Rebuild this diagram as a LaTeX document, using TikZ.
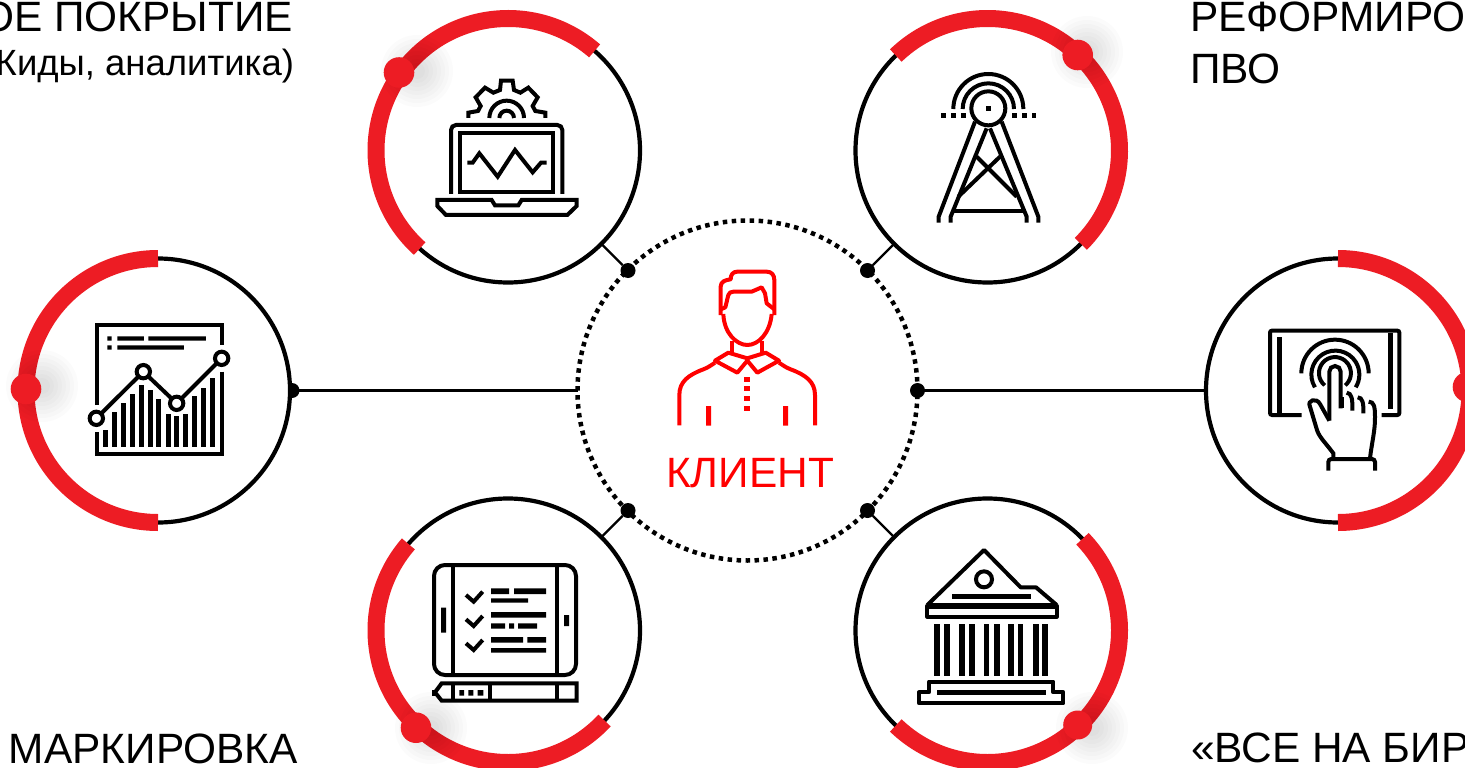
\documentclass[tikz,border=0pt]{standalone}
\usepackage{fontspec}
\setmainfont{Liberation Sans}
\definecolor{arcred}{HTML}{ED1C24}
\definecolor{pure}{HTML}{FF0000}
\tikzset{
  ring/.style={circle,draw=black,fill=white,line width=4.2pt,minimum size=264pt,inner sep=0pt,outer sep=0pt},
  hubring/.style={circle,draw=black,line width=4.5pt,minimum size=340pt,inner sep=0pt,outer sep=0pt,dash pattern=on 4.5pt off 4.48pt},
  bigdot/.style={circle,fill=black,minimum size=15pt,inner sep=0pt,outer sep=0pt},
  redarc/.style={arcred,line width=17pt},
  link/.style={black,line width=2.2pt},
  ic/.style={black,line width=4pt,miter limit=4},
  pers/.style={pure,line width=4pt,line join=round},
  big/.style={inner sep=0pt,outer sep=0pt,font=\fontsize{42.4}{48}\selectfont,text=black},
  small/.style={inner sep=0pt,outer sep=0pt,font=\fontsize{36.5}{42}\selectfont,text=black},
}
\newcommand{\knobshadow}[2]{\foreach \rr in {8,12,16,20,24,28,32,36}{\fill[black,opacity=0.014] (#1,#2) circle (\rr);}}
\begin{document}
\begin{tikzpicture}[x=1pt,y=1pt,yscale=-1]
\useasboundingbox (0,0) rectangle (1465,768);
\fill[white] (0,0) rectangle (1465,768);
% texts
\node[big,anchor=base east] (t1) at (293,32) {ОЕ ПОКРЫТИЕ};
\node[small,anchor=base east] (t2) at (294,76) {Жиды, аналитика)};
\node[big,anchor=base west] (t3) at (1190,32) {РЕФОРМИРО};
\node[big,anchor=base west] (t4) at (1190,83.5) {ПВО};
\node[big,anchor=base west] (t5) at (9,763) {МАРКИРОВКА};
\node[big,anchor=base west] (t6) at (1191,762) {«ВСЕ НА БИР};
% hidden half dot and rings
\node[bigdot] (dW) at (292,390.5) {};
\node[ring] (cTL) at (508,150.5) {};
\node[ring] (cTR) at (987.5,150.5) {};
\node[ring] (cL) at (158,390.5) {};
\node[ring] (cR) at (1338,390.5) {};
\node[ring] (cBL) at (508,630.5) {};
\node[ring] (cBR) at (987.5,630.5) {};
\node[hubring] (hub) at (747.5,390.5) {};
\node[bigdot] (dTL) at (628,270.5) {};
\node[bigdot] (dTR) at (867.5,270.5) {};
\node[bigdot] (dBL) at (628,510.5) {};
\node[bigdot] (dBR) at (867.5,510.5) {};
\node[bigdot] (dE) at (917.5,390.5) {};
\draw[link] (hub.west) -- (cL.east);
\draw[link] (dE) -- (cR.west);
\draw[link] (dTL) -- (cTL.-45);
\draw[link] (dTR) -- (cTR.-135);
\draw[link] (dBL) -- (cBL.45);
\draw[link] (dBR) -- (cBR.135);
% red arcs
\draw[redarc] (cTL.center) ++(-49:132) arc[start angle=-49,end angle=-228,radius=132];
\draw[redarc] (cTR.center) ++(-134:132) arc[start angle=-134,end angle=45,radius=132];
\draw[redarc] (cL.center) ++(-90:132) arc[start angle=-90,end angle=-270,radius=132];
\draw[redarc] (cR.center) ++(-90:132) arc[start angle=-90,end angle=90,radius=132];
\draw[redarc] (cBL.center) ++(-139:132) arc[start angle=-139,end angle=-317,radius=132];
\draw[redarc] (cBR.center) ++(-44:132) arc[start angle=-44,end angle=134,radius=132];
% knobs
\knobshadow{417}{71}\fill[arcred] (399,72.5) circle (15.3);
\knobshadow{1087}{52}\fill[arcred] (1077.7,55) circle (15.3);
\knobshadow{42}{386}\fill[arcred] (26,389) circle (15.3);
\fill[arcred] (1468,387) circle (15.3);
\knobshadow{431}{728}\fill[arcred] (416,727.7) circle (15.3);
\knobshadow{1092}{728}\fill[arcred] (1077.7,725) circle (14.5);
% laptop
\begin{scope}[shift={(360,0)},scale=1/3]
\draw[ic] (325,354)--(325,338)--(354,333)--(362,318)--(347,292)--(375,263)--(400,278)--(420,270)--(423,242)--(458,242)--(462,270)--(481,278)--(505,263)--(533,292)--(518,318)--(526,333)--(556,338)--(556,354);
\draw[ic] (388,354) arc[start angle=180,end angle=360,radius=52];
\draw[ic] (418,354) arc[start angle=180,end angle=360,radius=22];
\draw[ic,rounded corners=5pt] (273,582)--(273,375)--(607,375)--(607,582);
\draw[ic] (300,400) rectangle (580,576);
\draw[ic] (232,600)--(395,600)--(405,616)--(475,616)--(485,600)--(650,600)--(650,618)--(622,645)--(258,645)--(232,618)--cycle;
\draw[ic] (322,488)--(338,488)--(358,460)--(413,530)--(465,450)--(518,517)--(543,488)--(560,488);
\end{scope}
% tower
\begin{scope}[shift={(850,0)},scale=1/3]
\draw[ic] (310,327) arc[start angle=180,end angle=360,radius=105];
\draw[ic] (338,327) arc[start angle=180,end angle=360,radius=77];
\draw[ic] (415,325) circle (51);
\fill (408,318) rectangle (422,332);
\foreach \a/\b in {273/288,303/318,333/348,487/501,516/530,545/558}{\fill (\a,339) rectangle (\b,353);}
\draw[ic] (375,365)--(266,650)--(266,668);
\draw[ic] (410,385)--(302,650)--(302,668);
\draw[ic] (455,365)--(565,650)--(565,668);
\draw[ic] (420,385)--(530,650)--(530,668);
\draw[ic] (380,470)--(500,590);
\draw[ic] (450,470)--(325,590);
\draw[ic] (310,634)--(520,634);
\end{scope}
% chart
\begin{scope}[shift={(0,240)},scale=1/3]
\draw[ic] (290,495)--(290,255)--(665,255)--(665,315);
\draw[ic] (665,395)--(665,643)--(290,643)--(290,575);
\fill (322,289) rectangle (335,302) (352,289) rectangle (432,302) (445,289) rectangle (618,302);
\fill (322,316) rectangle (335,329) (352,316) rectangle (552,329);
\foreach \x/\t in {316/570,343/516,370/488,397/462,424/435,451/450,476/477,505/522,530/528,556/522,584/468,611/444,638/414}{\fill (\x-7.5,\t) rectangle (\x+7.5,622);}
\draw[ic] (289,535)--(430,395)--(530,490)--(665,355);
\foreach \x/\y in {289/535,430/395,530/490,665/355}{\draw[ic,fill=white] (\x,\y) circle (20);}
\end{scope}
% tablet touch
\begin{scope}[shift={(1190,240)},scale=1/3]
\draw[ic,rounded corners=2pt] (335,525)--(240,525)--(240,272)--(628,272)--(628,525)--(575,525);
\fill (260,290) rectangle (275,522);
\fill (594,278) rectangle (608,508);
\draw[ic] (334,400) arc[start angle=180,end angle=360,radius=101];
\draw[ic] (375,442) arc[start angle=148,end angle=392,radius=72];
\draw[ic] (404,436) arc[start angle=130,end angle=410,radius=48];
\draw[ic] (418,542)--(418,395) arc[start angle=180,end angle=360,radius=17]--(452,505);
\fill (447,470) rectangle (461,505);
\draw[ic] (418,542)--(390,492) .. controls (380,472) and (350,480) .. (360,500)--(378,560) .. controls (385,590) and (400,600) .. (430,640)--(430,655);
\draw[ic] (470,458) .. controls (485,460) and (488,475) .. (487,512);
\draw[ic] (503,472) .. controls (518,472) and (521,490) .. (520,520);
\draw[ic] (536,485) .. controls (552,485) and (555,500) .. (555,530) .. controls (556,570) and (545,610) .. (540,655);
\draw[ic,rounded corners=3pt] (415,692)--(415,657)--(555,657)--(555,692);
\end{scope}
% checklist tablet
\begin{scope}[shift={(360,490)},scale=1/3]
\draw[ic,rounded corners=11pt] (222,225) rectangle (648,555);
\draw[ic] (278,225)--(278,555);
\draw[ic] (592,225)--(592,555);
\fill (243,353) rectangle (258,428) (612,375) rectangle (627,408);
\foreach \y in {315,388,460}{\draw[ic] (318,\y)--(341,\y+20)--(368,\y-10);}
\fill (393,295) rectangle (447,312) (462,295) rectangle (558,312) (393,325) rectangle (504,338);
\fill (393,366) rectangle (558,383) (393,400) rectangle (435,416) (447,400) rectangle (462,416) (474,400) rectangle (531,416);
\fill (393,441) rectangle (489,458) (502,441) rectangle (558,458) (393,474) rectangle (558,488);
\draw[ic] (650,580)--(245,580)--(225,607)--(245,632)--(650,632)--cycle;
\fill (216,600) rectangle (232,617);
\draw[ic] (278,580)--(278,632);
\draw[ic] (390,580)--(390,632);
\draw[ic] (592,580)--(592,632);
\fill (298,600) rectangle (312,617) (325,600) rectangle (340,617) (353,600) rectangle (370,617);
\end{scope}
% bank
\begin{scope}[shift={(850,490)},scale=1/3]
\draw[ic,line join=round] (232,345)--(402,180)--(512,292)--(558,292)--(620,345);
\draw[ic,line join=round] (232,347) rectangle (620,380);
\fill (232,340) rectangle (620,356);
\draw[ic] (402,268) circle (24);
\fill (306,312) rectangle (543,327);
\foreach \a/\b in {252/270,282/300,327/345,357/375,402/417,432/450,474/492,504/519,549/567,576/594}{\fill (\a,402) rectangle (\b,557);}
\draw[ic,line join=round] (207,640)--(207,607)--(237,607)--(237,575)--(610,575)--(610,607)--(640,607)--(640,640)--cycle;
\fill (261,600) rectangle (588,615);
\end{scope}
% person
\begin{scope}[shift={(600,230)},scale=1/3]
\draw[pers] (362,255)--(362,170) .. controls (362,155) and (375,150) .. (392,148) .. controls (392,135) and (398,125) .. (412,125)--(500,125) .. controls (515,125) and (523,135) .. (523,150)--(523,255);
\draw[pers] (362,238)--(376,232)--(385,195) .. controls (388,188) and (392,185) .. (400,185)--(455,185)--(485,172)--(495,190)--(500,220)--(523,238);
\draw[pers] (370,252) .. controls (372,310) and (410,345) .. (442,345) .. controls (475,345) and (510,310) .. (515,252);
\draw[pers] (397,332)--(397,370);
\draw[pers] (487,332)--(487,370);
\draw[pers] (345,392)--(385,368)--(442,385)--(497,368)--(537,392)--(472,428)--(442,392)--(412,428)--cycle;
\draw[pers] (345,398) .. controls (330,408) and (325,412) .. (310,418) .. controls (265,435) and (238,455) .. (238,495)--(238,586);
\draw[pers] (537,398) .. controls (552,408) and (557,412) .. (572,418) .. controls (617,435) and (645,455) .. (645,495)--(645,586);
\fill[pure] (318,528) rectangle (333,587) (549,528) rectangle (564,587);
\foreach \y in {440,468,497,527}{\fill[pure] (432,\y) rectangle (450,\y+15);}
\end{scope}
\node[inner sep=0pt,outer sep=0pt,anchor=base,text=pure,font=\fontsize{42.4}{48}\selectfont] (klient) at (750,487.5) {КЛИЕНТ};
\end{tikzpicture}
\end{document}
